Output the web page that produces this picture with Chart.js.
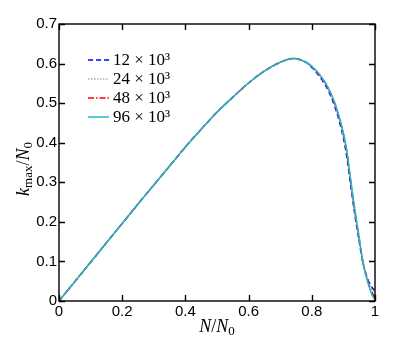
<!DOCTYPE html>
<html>
<head>
<meta charset="utf-8">
<script src="https://cdn.jsdelivr.net/npm/chart.js@4"></script>
<style>
  html, body { margin: 0; padding: 0; background: #fff; }
  #wrap { width: 415px; height: 339px; }
</style>
</head>
<body>
<div id="wrap"><canvas id="kmaxChart" width="415" height="339"></canvas></div>
<script>
// N/N0 sample positions (finer near the drop-off)
const nFrac = [0, 0.05, 0.1, 0.15, 0.2, 0.25, 0.3, 0.35, 0.4, 0.45, 0.5, 0.55, 0.6, 0.65, 0.7, 0.74, 0.78,
  0.8, 0.825, 0.85, 0.875, 0.9, 0.91, 0.92, 0.93, 0.94, 0.95, 0.96, 0.97, 0.98, 0.99, 1.0];

// part where all four curves overlap (x = 0 .. 0.78)
const sharedHead = [0, 0.049, 0.098, 0.147, 0.196, 0.245, 0.293, 0.341, 0.389, 0.434, 0.477, 0.515,
  0.551, 0.581, 0.603, 0.613, 0.604];

// tails for x = 0.8 .. 1.0
const tail12 = [0.590, 0.567, 0.535, 0.486, 0.412, 0.368, 0.310, 0.252, 0.198, 0.150, 0.103, 0.072, 0.050, 0.035, 0.025];
const tail24 = [0.592, 0.570, 0.539, 0.491, 0.418, 0.377, 0.318, 0.258, 0.204, 0.155, 0.105, 0.070, 0.045, 0.028, 0.015];
const tail48 = [0.593, 0.571, 0.541, 0.494, 0.422, 0.381, 0.322, 0.262, 0.207, 0.158, 0.106, 0.069, 0.042, 0.022, 0.009];
const tail96 = [0.593, 0.572, 0.542, 0.496, 0.425, 0.385, 0.325, 0.265, 0.210, 0.160, 0.107, 0.068, 0.040, 0.016, 0.003];

const seriesLabels = ['12 × 10³', '24 × 10³', '48 × 10³', '96 × 10³'];
const xTicks = [0, 0.2, 0.4, 0.6, 0.8, 1];
const yTicks = [0, 0.1, 0.2, 0.3, 0.4, 0.5, 0.6, 0.7];

function toPoints(tail) {
  const ys = sharedHead.concat(tail);
  return nFrac.map((x, i) => ({ x: x, y: ys[i] }));
}

const styles = [
  { color: '#0000ff', dash: [5, 3], order: 4 },
  { color: '#8fbf8f', dash: [1.5, 1.5], order: 3 },
  { color: '#ff0000', dash: [6, 2, 1.5, 2], order: 2 },
  { color: '#1fb8c2', dash: [], order: 1 },
];
const tails = [tail12, tail24, tail48, tail96];

const datasets = seriesLabels.map((label, i) => ({
  label: label,
  data: toPoints(tails[i]),
  borderColor: styles[i].color,
  borderDash: styles[i].dash,
  borderWidth: 1.5,
  pointRadius: 0,
  fill: false,
  cubicInterpolationMode: 'monotone',
  order: styles[i].order,
}));

const SERIF = '"Liberation Serif", "DejaVu Serif", serif';
const SANS = '"Liberation Sans", Arial, sans-serif';

// frame, inward ticks, axis titles and legend
const decorations = {
  id: 'decorations',
  afterDraw(chart) {
    const ctx = chart.ctx;
    const a = chart.chartArea;
    const xs = chart.scales.x, ys = chart.scales.y;
    ctx.save();
    ctx.strokeStyle = '#000';
    ctx.lineWidth = 1.4;
    ctx.strokeRect(a.left, a.top, a.right - a.left, a.bottom - a.top);
    ctx.beginPath();
    const tl = 6;
    xTicks.forEach(v => {
      const px = Math.round(xs.getPixelForValue(v)) + 0.5;
      ctx.moveTo(px, a.bottom); ctx.lineTo(px, a.bottom - tl);
      ctx.moveTo(px, a.top); ctx.lineTo(px, a.top + tl);
    });
    yTicks.forEach(v => {
      const py = Math.round(ys.getPixelForValue(v)) + 0.5;
      ctx.moveTo(a.left, py); ctx.lineTo(a.left + tl, py);
      ctx.moveTo(a.right, py); ctx.lineTo(a.right - tl, py);
    });
    ctx.stroke();

    ctx.fillStyle = '#000';
    ctx.textBaseline = 'alphabetic';
    ctx.textAlign = 'left';
    const big = 'italic 18px ' + SERIF, up = '18px ' + SERIF, small = '13px ' + SERIF;
    function drawParts(parts, x, y) {
      let w = 0;
      parts.forEach(p => { ctx.font = p.font; w += ctx.measureText(p.t).width; });
      let cx = x - w / 2;
      parts.forEach(p => {
        ctx.font = p.font;
        ctx.fillText(p.t, cx, y + (p.dy || 0));
        cx += ctx.measureText(p.t).width;
      });
    }
    // x title: N/N0
    drawParts([{ t: 'N', font: big }, { t: '/', font: up }, { t: 'N', font: big }, { t: '0', font: small, dy: 3 }],
      (a.left + a.right) / 2, 332);

    // y title: k_max/N0
    ctx.save();
    ctx.translate(29, 169);
    ctx.rotate(-Math.PI / 2);
    drawParts([{ t: 'k', font: big }, { t: 'max', font: small, dy: 3 }, { t: '/', font: up },
      { t: 'N', font: big }, { t: '0', font: small, dy: 3 }], 0, 0);
    ctx.restore();

    // legend
    const lx0 = 88, lx1 = 109, ly0 = 60, step = 19;
    chart.data.datasets.forEach((ds, i) => {
      const y = ly0 + i * step;
      ctx.beginPath();
      ctx.setLineDash(ds.borderDash);
      ctx.strokeStyle = ds.borderColor;
      ctx.lineWidth = 1.5;
      ctx.moveTo(lx0, y); ctx.lineTo(lx1, y);
      ctx.stroke();
      ctx.setLineDash([]);
      ctx.font = '17px ' + SERIF;
      ctx.fillStyle = '#000';
      ctx.textBaseline = 'middle';
      ctx.fillText(ds.label, lx1 + 4, y + 1);
    });
    ctx.restore();
  }
};

new Chart(document.getElementById('kmaxChart').getContext('2d'), {
  type: 'line',
  data: { datasets: datasets },
  options: {
    responsive: false,
    animation: false,
    layout: { padding: { top: 24, right: 40, left: 0, bottom: 0 } },
    plugins: { legend: { display: false }, tooltip: { enabled: false } },
    scales: {
      x: {
        type: 'linear', min: 0, max: 1,
        afterFit(s) { s.height = 38; },
        afterBuildTicks(s) { s.ticks = xTicks.map(v => ({ value: v })); },
        grid: { display: false, drawTicks: false },
        border: { display: false },
        ticks: { color: '#000', padding: 2, font: { family: SANS, size: 15 }, callback: v => String(v) },
      },
      y: {
        type: 'linear', min: 0, max: 0.7,
        afterFit(s) { s.width = 59; },
        afterBuildTicks(s) { s.ticks = yTicks.map(v => ({ value: v })); },
        grid: { display: false, drawTicks: false },
        border: { display: false },
        ticks: { color: '#000', padding: 2, font: { family: SANS, size: 15 }, callback: v => String(v) },
      },
    },
  },
  plugins: [decorations],
});
</script>
</body>
</html>
